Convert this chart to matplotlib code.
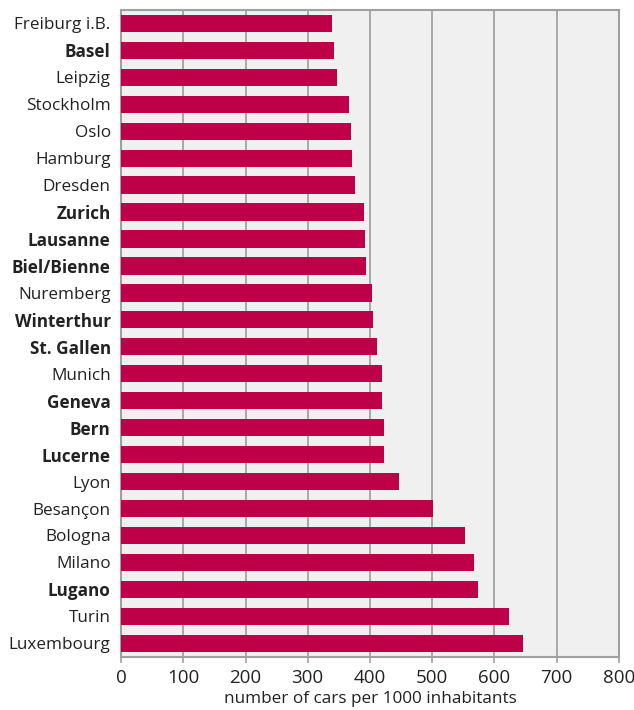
import matplotlib
matplotlib.use("Agg")
import matplotlib.pyplot as plt

cities = ["Freiburg i.B.", "Basel", "Leipzig", "Stockholm", "Oslo", "Hamburg",
          "Dresden", "Zurich", "Lausanne", "Biel/Bienne", "Nuremberg", "Winterthur",
          "St. Gallen", "Munich", "Geneva", "Bern", "Lucerne", "Lyon", "Besançon",
          "Bologna", "Milano", "Lugano", "Turin", "Luxembourg"]
cars_per_1000 = [339, 342, 347, 366, 369, 371, 376, 390, 392, 393, 403, 405,
                 411, 419, 419, 422, 422, 446, 502, 552, 568, 574, 623, 646]
swiss_cities = {"Basel", "Zurich", "Lausanne", "Biel/Bienne", "Winterthur",
                "St. Gallen", "Geneva", "Bern", "Lucerne", "Lugano"}
x_ticks = [0, 100, 200, 300, 400, 500, 600, 700, 800]
x_label = "number of cars per 1000 inhabitants"

plt.rcParams["font.family"] = ["Open Sans", "DejaVu Sans"]

fig = plt.figure(figsize=(6.34, 7.10), dpi=100)
ax = fig.add_axes([0.191, 0.075, 0.785, 0.911])

bar_color = "#be0048"
grid_color = "#a8a8a8"
frame_color = "#a0a0a0"

ax.set_facecolor("#eff0ef")
positions = list(range(len(cities)))
ax.barh(positions, cars_per_1000, height=0.64, color=bar_color, zorder=3)

ax.set_xlim(0, 800)
ax.set_ylim(len(cities) - 0.5, -0.5)
ax.set_xticks(x_ticks)
ax.set_xticklabels([str(t) for t in x_ticks], fontsize=13.5, color="#222222")
ax.set_yticks(positions)
ax.set_yticklabels(cities, fontsize=12.3, color="#222222")
for lbl in ax.get_yticklabels():
    if lbl.get_text() in swiss_cities:
        lbl.set_fontweight("bold")

ax.xaxis.grid(True, color=grid_color, linewidth=1.4, zorder=1)
ax.set_axisbelow(True)
ax.tick_params(axis="y", length=0, pad=7.5)
ax.tick_params(axis="x", length=4, color=frame_color, width=1.2, pad=4.5)

for side in ["top", "right", "bottom", "left"]:
    ax.spines[side].set_color(frame_color)
    ax.spines[side].set_linewidth(1.5)

ax.set_xlabel(x_label, fontsize=12.3, color="#222222", labelpad=3)

fig.savefig("out.png", dpi=100)
